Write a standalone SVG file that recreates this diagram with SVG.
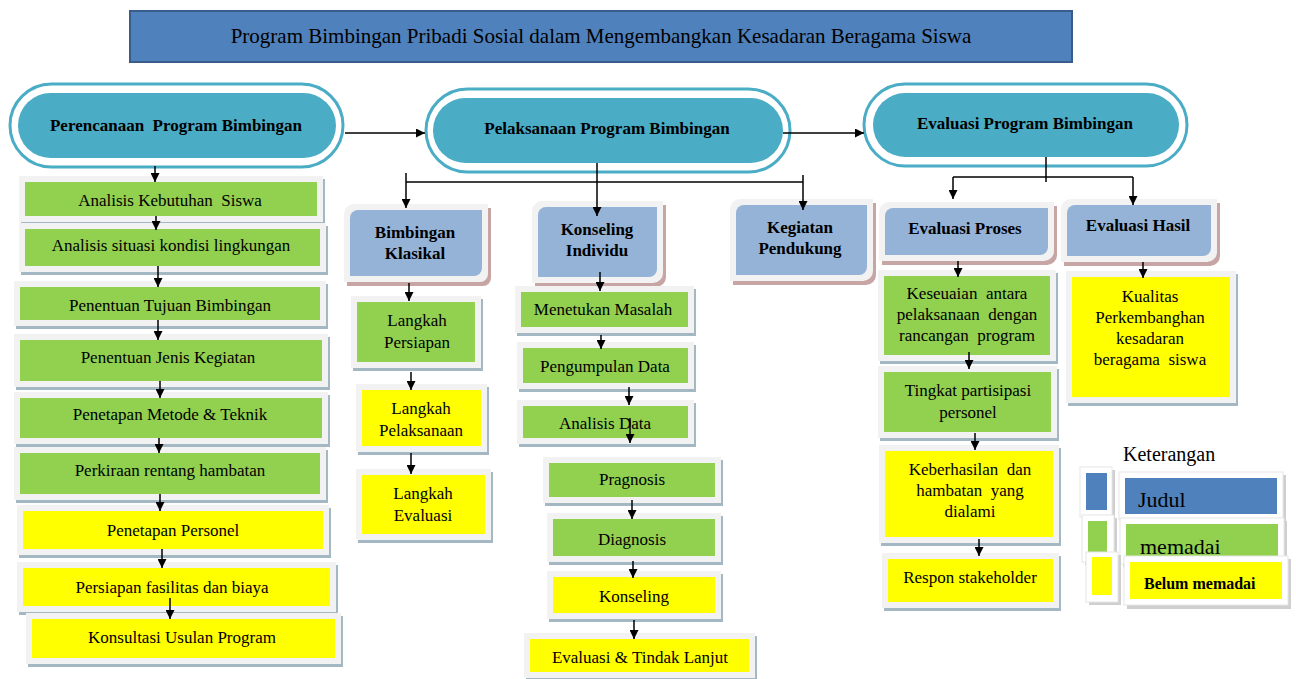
<svg xmlns="http://www.w3.org/2000/svg" width="1296" height="679" viewBox="0 0 1296 679">
<defs>
<marker id="ah" viewBox="0 0 10 10" refX="10" refY="5" markerWidth="10" markerHeight="9" markerUnits="userSpaceOnUse" orient="auto"><path d="M0,0 L10,5 L0,10 z" fill="#000"/></marker>
<style>
.fr{fill:#f2f2f2}
.sg{fill:#a3b8c2}
.sb{fill:#c7a5a5}
.g{fill:#92d050}
.y{fill:#ffff00}
.b{fill:#95b3d7}
.t{font-family:"Liberation Serif","Times New Roman",serif;font-size:17px;text-anchor:middle;fill:#000;white-space:pre}
.tb{font-family:"Liberation Serif","Times New Roman",serif;font-size:17px;font-weight:bold;text-anchor:middle;fill:#000;white-space:pre}
.ring{fill:#fff;stroke:#4bacc6;stroke-width:3}
.oval{fill:#4bacc6}
.c{stroke:#000;stroke-width:1.5;fill:none}
.a{stroke:#000;stroke-width:1.5;fill:none;marker-end:url(#ah)}
.lf{fill:#fff;stroke:#e6e6e6;stroke-width:1}
.ls{fill:#cfcfcf}
.lt{font-family:"Liberation Serif","Times New Roman",serif;font-size:20px;fill:#000}
</style>
</defs>
<rect width="1296" height="679" fill="#fff"/>

<g id="title">
<rect x="130" y="11" width="942" height="51" fill="#4f81bd" stroke="#385d8a" stroke-width="2"/>
<text x="601" y="43" class="t" style="font-size:21px">Program Bimbingan Pribadi Sosial dalam Mengembangkan Kesadaran Beragama Siswa</text>
</g>

<g id="perencanaan">
<rect x="10" y="84" width="333" height="83" rx="41.5" class="ring"/>
<rect x="18" y="93" width="318" height="65" rx="32.5" class="oval"/>
<text x="176" y="131" class="tb">Perencanaan  Program Bimbingan</text>
</g>
<g id="pelaksanaan">
<rect x="426" y="89" width="364" height="83" rx="41.5" class="ring"/>
<rect x="433" y="98" width="350" height="65" rx="32.5" class="oval"/>
<text x="607" y="134" class="tb">Pelaksanaan Program Bimbingan</text>
</g>
<g id="evaluasi">
<rect x="864" y="84" width="323" height="82" rx="41" class="ring"/>
<rect x="873" y="93" width="306" height="64" rx="32" class="oval"/>
<text x="1025" y="129" class="tb">Evaluasi Program Bimbingan</text>
</g>

<!-- left column -->
<g id="p1"><rect x="21" y="179" width="304" height="46" class="sg"/><rect x="19" y="176" width="304" height="46" class="fr"/><rect x="25" y="182" width="292" height="34" class="g"/><text x="170" y="206" class="t">Analisis Kebutuhan  Siswa</text></g>
<g id="p2"><rect x="21" y="226" width="307" height="49" class="sg"/><rect x="19" y="223" width="307" height="49" class="fr"/><rect x="25" y="229" width="295" height="37" class="g"/><text x="171" y="251" class="t">Analisis situasi kondisi lingkungan</text></g>
<g id="p3"><rect x="16" y="284" width="312" height="45" class="sg"/><rect x="14" y="281" width="312" height="45" class="fr"/><rect x="20" y="287" width="300" height="33" class="g"/><text x="170" y="311" class="t">Penentuan Tujuan Bimbingan</text></g>
<g id="p4"><rect x="16" y="337" width="314" height="53" class="sg"/><rect x="14" y="334" width="314" height="53" class="fr"/><rect x="20" y="340" width="302" height="41" class="g"/><text x="168" y="363" class="t">Penentuan Jenis Kegiatan</text></g>
<g id="p5"><rect x="16" y="395" width="314" height="52" class="sg"/><rect x="14" y="392" width="314" height="52" class="fr"/><rect x="20" y="398" width="302" height="40" class="g"/><text x="170" y="420" class="t">Penetapan Metode &amp; Teknik</text></g>
<g id="p6"><rect x="16" y="450" width="312" height="53" class="sg"/><rect x="14" y="447" width="312" height="53" class="fr"/><rect x="20" y="453" width="300" height="41" class="g"/><text x="170" y="476" class="t">Perkiraan rentang hambatan</text></g>
<g id="p7"><rect x="19" y="508" width="312" height="50" class="sg"/><rect x="17" y="505" width="312" height="50" class="fr"/><rect x="23" y="511" width="300" height="38" class="y"/><text x="173" y="536" class="t">Penetapan Personel</text></g>
<g id="p8"><rect x="19" y="565" width="319" height="50" class="sg"/><rect x="17" y="562" width="319" height="50" class="fr"/><rect x="23" y="568" width="307" height="38" class="y"/><text x="172" y="593" class="t">Persiapan fasilitas dan biaya</text></g>
<g id="p9"><rect x="28" y="616" width="315" height="51" class="sg"/><rect x="26" y="613" width="315" height="51" class="fr"/><rect x="32" y="619" width="303" height="39" class="y"/><text x="182" y="643" class="t">Konsultasi Usulan Program</text></g>

<!-- headers -->
<g id="bimbingan-klasikal">
<path d="M354,204 H488 V274 a8,8 0 0 1 -8,8 H344 V214 a10,10 0 0 1 10,-10 Z" class="sb" transform="translate(3,4)"/>
<path d="M354,204 H488 V274 a8,8 0 0 1 -8,8 H344 V214 a10,10 0 0 1 10,-10 Z" class="fr"/>
<path d="M358,210 H482 V268 a8,8 0 0 1 -8,8 H350 V218 a8,8 0 0 1 8,-8 Z" class="b"/>
<text x="415" y="238" class="tb">Bimbingan<tspan x="415" dy="21">Klasikal</tspan></text>
</g>
<g id="konseling-individu">
<path d="M542,201 H663 V273 a10,10 0 0 1 -10,10 H532 V211 a10,10 0 0 1 10,-10 Z" class="sb" transform="translate(3,4)"/>
<path d="M542,201 H663 V273 a10,10 0 0 1 -10,10 H532 V211 a10,10 0 0 1 10,-10 Z" class="fr"/>
<path d="M546,207 H657 V269 a8,8 0 0 1 -8,8 H538 V215 a8,8 0 0 1 8,-8 Z" class="b"/>
<text x="597" y="235" class="tb">Konseling<tspan x="597" dy="21">Individu</tspan></text>
</g>
<g id="kegiatan-pendukung">
<path d="M740,199 H873 V271 a10,10 0 0 1 -10,10 H730 V209 a10,10 0 0 1 10,-10 Z" class="sb" transform="translate(3,4)"/>
<path d="M740,199 H873 V271 a10,10 0 0 1 -10,10 H730 V209 a10,10 0 0 1 10,-10 Z" class="fr"/>
<path d="M744,205 H867 V267 a8,8 0 0 1 -8,8 H736 V213 a8,8 0 0 1 8,-8 Z" class="b"/>
<text x="800" y="233" class="tb">Kegiatan<tspan x="800" dy="21">Pendukung</tspan></text>
</g>
<g id="evaluasi-proses">
<path d="M889,202 H1054 V251 a10,10 0 0 1 -10,10 H879 V212 a10,10 0 0 1 10,-10 Z" class="sb" transform="translate(3,4)"/>
<path d="M889,202 H1054 V251 a10,10 0 0 1 -10,10 H879 V212 a10,10 0 0 1 10,-10 Z" class="fr"/>
<path d="M893,208 H1048 V247 a8,8 0 0 1 -8,8 H885 V216 a8,8 0 0 1 8,-8 Z" class="b"/>
<text x="965" y="234" class="tb">Evaluasi Proses</text>
</g>
<g id="evaluasi-hasil">
<path d="M1071,199 H1217 V252 a10,10 0 0 1 -10,10 H1061 V209 a10,10 0 0 1 10,-10 Z" class="sb" transform="translate(3,4)"/>
<path d="M1071,199 H1217 V252 a10,10 0 0 1 -10,10 H1061 V209 a10,10 0 0 1 10,-10 Z" class="fr"/>
<path d="M1075,205 H1211 V248 a8,8 0 0 1 -8,8 H1067 V213 a8,8 0 0 1 8,-8 Z" class="b"/>
<text x="1138" y="231" class="tb">Evaluasi Hasil</text>
</g>

<!-- bimbingan klasikal column -->
<g id="bk1"><rect x="353" y="299" width="130" height="72" class="sg"/><rect x="351" y="296" width="130" height="72" class="fr"/><rect x="357" y="302" width="118" height="60" class="g"/><text x="417" y="326" class="t">Langkah<tspan x="417" dy="22">Persiapan</tspan></text></g>
<g id="bk2"><rect x="358" y="387" width="131" height="68" class="sg"/><rect x="356" y="384" width="131" height="68" class="fr"/><rect x="362" y="390" width="119" height="56" class="y"/><text x="421" y="414" class="t">Langkah<tspan x="421" dy="22">Pelaksanaan</tspan></text></g>
<g id="bk3"><rect x="358" y="472" width="135" height="71" class="sg"/><rect x="356" y="469" width="135" height="71" class="fr"/><rect x="362" y="475" width="123" height="59" class="y"/><text x="423" y="499" class="t">Langkah<tspan x="423" dy="22">Evaluasi</tspan></text></g>

<!-- konseling column -->
<g id="ki1"><rect x="517" y="289" width="179" height="47" class="sg"/><rect x="515" y="286" width="179" height="47" class="fr"/><rect x="521" y="292" width="167" height="35" class="g"/><text x="603" y="315" class="t">Menetukan Masalah</text></g>
<g id="ki2"><rect x="519" y="345" width="177" height="47" class="sg"/><rect x="517" y="342" width="177" height="47" class="fr"/><rect x="523" y="348" width="165" height="35" class="g"/><text x="605" y="372" class="t">Pengumpulan Data</text></g>
<g id="ki3"><rect x="519" y="403" width="177" height="44" class="sg"/><rect x="517" y="400" width="177" height="44" class="fr"/><rect x="523" y="406" width="165" height="32" class="g"/><text x="605" y="429" class="t">Analisis Data</text></g>
<g id="ki4"><rect x="545" y="460" width="178" height="46" class="sg"/><rect x="543" y="457" width="178" height="46" class="fr"/><rect x="549" y="463" width="166" height="34" class="g"/><text x="632" y="485" class="t">Pragnosis</text></g>
<g id="ki5"><rect x="549" y="516" width="174" height="49" class="sg"/><rect x="547" y="513" width="174" height="49" class="fr"/><rect x="553" y="519" width="162" height="37" class="g"/><text x="632" y="545" class="t">Diagnosis</text></g>
<g id="ki6"><rect x="549" y="574" width="174" height="48" class="sg"/><rect x="547" y="571" width="174" height="48" class="fr"/><rect x="553" y="577" width="162" height="36" class="y"/><text x="634" y="602" class="t">Konseling</text></g>
<g id="ki7"><rect x="526" y="636" width="231" height="45" class="sg"/><rect x="524" y="633" width="231" height="45" class="fr"/><rect x="530" y="639" width="219" height="33" class="y"/><text x="640" y="663" class="t">Evaluasi &amp; Tindak Lanjut</text></g>

<!-- evaluasi proses column -->
<g id="ep1"><rect x="880" y="273" width="178" height="91" class="sg"/><rect x="878" y="270" width="178" height="91" class="fr"/><rect x="884" y="276" width="166" height="79" class="g"/><text x="967" y="299" class="t">Keseuaian  antara<tspan x="967" dy="21">pelaksanaan  dengan</tspan><tspan x="967" dy="21">rancangan  program</tspan></text></g>
<g id="ep2"><rect x="880" y="369" width="179" height="72" class="sg"/><rect x="878" y="366" width="179" height="72" class="fr"/><rect x="884" y="372" width="167" height="60" class="g"/><text x="968" y="396" class="t">Tingkat partisipasi<tspan x="968" dy="22">personel</tspan></text></g>
<g id="ep3"><rect x="881" y="448" width="180" height="98" class="sg"/><rect x="879" y="445" width="180" height="98" class="fr"/><rect x="885" y="451" width="168" height="86" class="y"/><text x="970" y="475" class="t">Keberhasilan  dan<tspan x="970" dy="21">hambatan  yang</tspan><tspan x="970" dy="21">dialami</tspan></text></g>
<g id="ep4"><rect x="884" y="556" width="177" height="55" class="sg"/><rect x="882" y="553" width="177" height="55" class="fr"/><rect x="888" y="559" width="165" height="43" class="y"/><text x="970" y="583" class="t">Respon stakeholder</text></g>

<!-- evaluasi hasil column -->
<g id="eh1"><rect x="1068" y="274" width="170" height="132" class="sg"/><rect x="1066" y="271" width="170" height="132" class="fr"/><rect x="1072" y="277" width="158" height="120" class="y"/><text x="1150" y="302" class="t">Kualitas<tspan x="1150" dy="21">Perkembanghan</tspan><tspan x="1150" dy="21">kesadaran</tspan><tspan x="1150" dy="21">beragama  siswa</tspan></text></g>

<!-- legend -->
<g id="legend">
<text x="1123" y="461" class="lt">Keterangan</text>
<rect x="1083" y="470" width="32" height="50" class="ls"/>
<rect x="1080" y="467" width="32" height="50" class="lf"/>
<rect x="1086" y="473" width="21" height="37" fill="#4f81bd"/>
<rect x="1122" y="475" width="164" height="48" class="ls"/>
<rect x="1119" y="472" width="164" height="48" class="lf"/>
<rect x="1125" y="478" width="152" height="36" fill="#4f81bd"/>
<text x="1138" y="507" class="lt" style="font-size:22px">Judul</text>
<rect x="1085" y="518" width="32" height="47" class="ls"/>
<rect x="1082" y="515" width="32" height="47" class="lf"/>
<rect x="1088" y="521" width="19" height="33" class="g"/>
<rect x="1123" y="521" width="164" height="46" class="ls"/>
<rect x="1120" y="518" width="164" height="46" class="lf"/>
<rect x="1126" y="524" width="152" height="34" class="g"/>
<text x="1140" y="554" class="lt" style="font-size:22px">memadai</text>
<rect x="1089" y="555" width="32" height="50" class="ls"/>
<rect x="1086" y="552" width="32" height="50" class="lf"/>
<rect x="1092" y="557" width="20" height="38" class="y"/>
<rect x="1127" y="559" width="164" height="50" class="ls"/>
<rect x="1124" y="556" width="164" height="49" class="lf"/>
<rect x="1130" y="562" width="152" height="37" class="y"/>
<text x="1144" y="589" class="lt" style="font-size:16px;font-weight:bold">Belum memadai</text>
</g>

<g id="connectors">
<line x1="345" y1="133" x2="425" y2="133" class="a"/>
<line x1="783" y1="133" x2="864" y2="133" class="a"/>
<line x1="155" y1="166" x2="155" y2="182" class="a"/>
<line x1="156" y1="216" x2="156" y2="230" class="a"/>
<line x1="158" y1="266" x2="158" y2="287" class="a"/>
<line x1="158" y1="320" x2="158" y2="340" class="a"/>
<line x1="160" y1="381" x2="160" y2="398" class="a"/>
<line x1="159" y1="438" x2="159" y2="453" class="a"/>
<line x1="160" y1="494" x2="160" y2="511" class="a"/>
<line x1="162" y1="549" x2="162" y2="568" class="a"/>
<line x1="170" y1="598" x2="170" y2="619" class="a"/>
<line x1="406" y1="182" x2="803" y2="182" class="c"/>
<line x1="597" y1="163" x2="597" y2="216" class="a"/>
<line x1="406" y1="173" x2="406" y2="208" class="a"/>
<line x1="803" y1="175" x2="803" y2="210" class="a"/>
<line x1="409" y1="283" x2="409" y2="301" class="a"/>
<line x1="411" y1="372" x2="411" y2="390" class="a"/>
<line x1="411" y1="453" x2="411" y2="474" class="a"/>
<line x1="600" y1="272" x2="600" y2="291" class="a"/>
<line x1="601" y1="335" x2="601" y2="349" class="a"/>
<line x1="629" y1="387" x2="629" y2="405" class="a"/>
<line x1="630" y1="418" x2="630" y2="443" class="a"/>
<line x1="632" y1="500" x2="632" y2="519" class="a"/>
<line x1="633" y1="561" x2="633" y2="578" class="a"/>
<line x1="634" y1="620" x2="634" y2="639" class="a"/>
<line x1="1046" y1="157" x2="1046" y2="182" class="c"/>
<line x1="953" y1="177" x2="1133" y2="177" class="c"/>
<line x1="953" y1="177" x2="953" y2="199" class="a"/>
<line x1="1133" y1="177" x2="1133" y2="205" class="a"/>
<line x1="958" y1="261" x2="958" y2="277" class="a"/>
<line x1="969" y1="352" x2="969" y2="369" class="a"/>
<line x1="975" y1="433" x2="975" y2="450" class="a"/>
<line x1="979" y1="539" x2="979" y2="556" class="a"/>
<line x1="1143" y1="262" x2="1143" y2="278" class="a"/>
</g>
</svg>
